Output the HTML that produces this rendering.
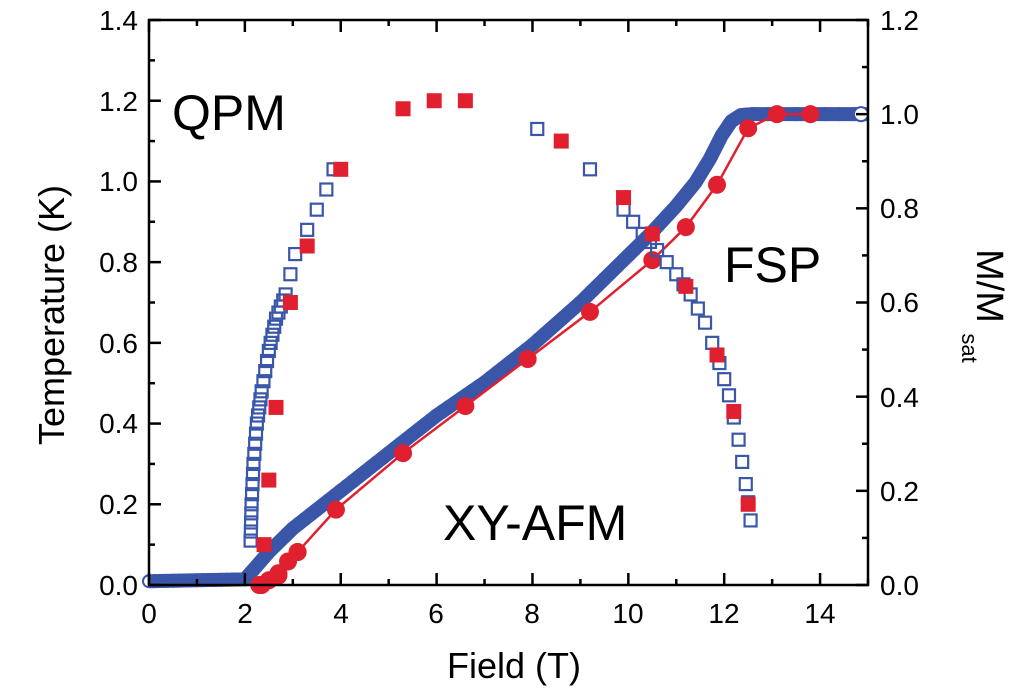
<!DOCTYPE html>
<html><head><meta charset="utf-8"><style>
html,body{margin:0;padding:0;background:#fff;}
svg{display:block;font-family:"Liberation Sans",Arial,sans-serif;}
</style></head><body>
<svg id="s" width="1024" height="691" viewBox="0 0 1024 691" xmlns="http://www.w3.org/2000/svg">
<rect width="1024" height="691" fill="#fff"/>
<g id="data"></g>
<g id="axes" stroke="#000" stroke-width="2.5" fill="none">
<rect x="149" y="20" width="719" height="565"/>
</g>
<g id="ticks" stroke="#000" stroke-width="2.5"></g>
<g font-size="28" fill="#000" text-anchor="end">
<text x="138" y="595">0.0</text>
<text x="138" y="514">0.2</text>
<text x="138" y="433">0.4</text>
<text x="138" y="353">0.6</text>
<text x="138" y="272">0.8</text>
<text x="138" y="191">1.0</text>
<text x="138" y="111">1.2</text>
<text x="138" y="30">1.4</text>
</g>
<g font-size="28" fill="#000" text-anchor="start">
<text x="880" y="595">0.0</text>
<text x="880" y="501">0.2</text>
<text x="880" y="407">0.4</text>
<text x="880" y="312">0.6</text>
<text x="880" y="218">0.8</text>
<text x="880" y="124">1.0</text>
<text x="880" y="30">1.2</text>
</g>
<g font-size="28" fill="#000" text-anchor="middle">
<text x="149" y="623">0</text>
<text x="245" y="623">2</text>
<text x="341" y="623">4</text>
<text x="436" y="623">6</text>
<text x="532" y="623">8</text>
<text x="628" y="623">10</text>
<text x="724" y="623">12</text>
<text x="820" y="623">14</text>
</g>
<text x="514" y="678" font-size="36" text-anchor="middle">Field (T)</text>
<text transform="translate(64,315) rotate(-90)" font-size="36" text-anchor="middle">Temperature (K)</text>
<text transform="translate(977,286) rotate(90)" font-size="38" text-anchor="middle">M/M</text>
<text transform="translate(962,348) rotate(90)" font-size="22" text-anchor="middle">sat</text>
<text x="172" y="130" font-size="50">QPM</text>
<text x="724" y="282" font-size="50">FSP</text>
<text x="443" y="540" font-size="50">XY-AFM</text>
</svg>
<script>
var NS="http://www.w3.org/2000/svg";
function X(h){return 149+h*719/15;}
function YL(t){return 585-t*565/1.4;}
function YR(m){return 585-m*565/1.2;}
function el(tag,a,p){var e=document.createElementNS(NS,tag);for(var k in a)e.setAttribute(k,a[k]);(p||document.getElementById('data')).appendChild(e);return e;}
var tk=document.getElementById('ticks');
for(var i=0;i<=15;i++){var x=X(i),L=(i%2==0)?12:6;el('line',{x1:x,y1:585,x2:x,y2:585-L},tk);el('line',{x1:x,y1:20,x2:x,y2:20+L},tk);}
for(var i=0;i<=14;i++){var y=YL(i*0.1),L=(i%2==0)?12:6;el('line',{x1:149,y1:y,x2:149+L,y2:y},tk);}
for(var i=0;i<=12;i++){var y=YR(i*0.1),L=(i%2==0)?12:6;el('line',{x1:868,y1:y,x2:868-L,y2:y},tk);}
function interp(pts,n){var out=[];for(var i=0;i<pts.length-1;i++){for(var j=0;j<n;j++){var f=j/n;out.push([pts[i][0]+(pts[i+1][0]-pts[i][0])*f,pts[i][1]+(pts[i+1][1]-pts[i][1])*f]);}}out.push(pts[pts.length-1]);return out;}
// blue magnetization
var bm=[[0,0.008],[1,0.01],[2,0.012],[2.2,0.035],[2.5,0.07],[3,0.12],[4,0.2],[5,0.28],[6,0.36],[7,0.43],[8,0.51],[9,0.6],[10,0.7],[10.5,0.75],[11,0.805],[11.4,0.855],[11.7,0.905],[11.95,0.955],[12.15,0.985],[12.35,0.998],[12.6,1.0],[15,1.0]];
var d="";bm.forEach(function(p,i){d+=(i?"L":"M")+X(p[0])+" "+YR(p[1]);});
el('path',{d:d,stroke:'#3a56a8','stroke-width':14,fill:'none','stroke-linejoin':'round'});
interp(bm,8).forEach(function(p){if(p[0]<=14.9)el('circle',{cx:X(p[0]),cy:YR(p[1]),r:6,fill:'none',stroke:'#3a56a8','stroke-width':2});});
el('circle',{cx:861,cy:YR(1.0),r:7,fill:'#fff',stroke:'#3a56a8','stroke-width':2});
// red magnetization
var rm=[[2.3,0],[2.7,0.02],[3.1,0.07],[3.9,0.16],[5.3,0.28],[6.6,0.38],[7.9,0.48],[9.2,0.58],[10.5,0.69],[11.2,0.76],[11.85,0.85],[12.5,0.97],[13.1,1.0],[13.8,1.0]];
d="";[[2.2,0],[2.3,0.005]].concat(rm.slice(1)).forEach(function(p,i){d+=(i?"L":"M")+X(p[0])+" "+YR(p[1]);});
el('path',{d:d,stroke:'#e0202e','stroke-width':2.5,fill:'none'});
[[2.35,0.0],[2.5,0.01],[2.7,0.025],[2.9,0.05],[3.1,0.07]].forEach(function(p){el('circle',{cx:X(p[0]),cy:YR(p[1]),r:9,fill:'#e0202e'});});
rm.forEach(function(p){el('circle',{cx:X(p[0]),cy:YR(p[1]),r:9,fill:'#e0202e'});});
// blue open squares
var b1=[[2.12,0.11],[2.14,0.2],[2.18,0.3],[2.25,0.4],[2.35,0.48],[2.5,0.58],[2.65,0.66],[2.85,0.72],[2.95,0.77],[3.05,0.82],[3.3,0.88],[3.5,0.93],[3.7,0.98],[3.85,1.03]];
var b2=[[8.1,1.13],[9.2,1.03],[9.9,0.93],[10.3,0.87],[10.6,0.83],[11,0.77],[11.3,0.72],[11.6,0.65],[11.9,0.55],[12.1,0.47],[12.3,0.36],[12.45,0.25],[12.55,0.16]];
function sq(p,s,att){el('rect',Object.assign({x:X(p[0])-s/2,y:YL(p[1])-s/2,width:s,height:s},att));}
var bsa={fill:'none',stroke:'#3a56a8','stroke-width':2.2};
interp(b1.slice(0,8),4).forEach(function(p){sq(p,12,bsa);});
b1.slice(8).forEach(function(p){sq(p,12,bsa);});
[[8.1,1.13],[9.2,1.03]].forEach(function(p){sq(p,12,bsa);});
interp(b2.slice(2),2).forEach(function(p){sq(p,12,bsa);});
// red squares
[[2.4,0.1],[2.5,0.26],[2.65,0.44],[2.95,0.7],[3.3,0.84],[4.0,1.03],[5.3,1.18],[5.95,1.2],[6.6,1.2],[8.6,1.1],[9.9,0.96],[10.5,0.87],[11.2,0.74],[11.85,0.57],[12.2,0.43],[12.5,0.2]].forEach(function(p){sq(p,15,{fill:'#e0202e'});});
</script>
</body></html>
